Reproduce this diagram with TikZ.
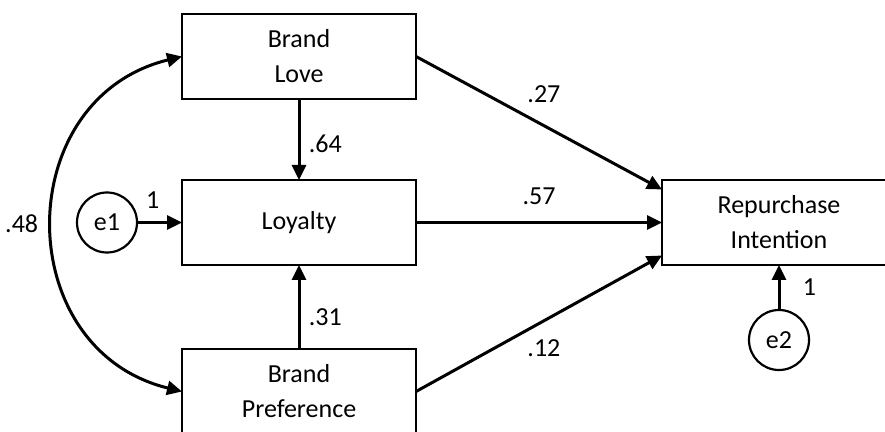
\documentclass[tikz,border=0pt]{standalone}
\usepackage{fontspec}
\setmainfont{Carlito}
\usetikzlibrary{positioning, arrows.meta}

\begin{document}
\begin{tikzpicture}[->, >={Triangle[length=15pt, width=14pt]}, line width=3pt,
        node distance=81pt,
        var/.style={draw, rectangle, line width=2.6pt, minimum width=234pt, minimum height=85pt,
            align=center, outer sep=0pt, font=\fontsize{26}{35}\selectfont},
        err/.style={draw, circle, line width=2.2pt, minimum size=60pt, inner sep=0pt,
            outer sep=0pt, font=\fontsize{26}{30}\selectfont},
        coef/.style={font=\fontsize{26}{30}\selectfont}]
            \useasboundingbox (0,0) rectangle (885pt,431pt);
            \clip (0,0) rectangle (885pt,431pt);

            \node[var] (love) at (299pt,374.5pt) {Brand\\Love};
            \node[var] (loyal) [below=of love] {Loyalty};
            \node[var] (pref) [below=84pt of loyal] {Brand\\Preference};
            \node[var] (rep) [right=246pt of loyal] {Repurchase\\Intention};
            \node[err] (e1) [left=45pt of loyal] {e1};
            \node[err] (e2) [below=45pt of rep] {e2};

            \path
            (love) edge node[coef, pos=.55, right=5pt] {.64} (loyal)
            (pref) edge node[coef, pos=.38, right=5pt] {.31} (loyal)
            (e1) edge node[coef, pos=.35, above=9pt] {1} (loyal)
            (e2) edge node[coef, right=19pt] {1} (rep)
            (love.east) edge node[coef, pos=.52, above=18pt] {.27} ([yshift=33pt]rep.west)
            (loyal) edge node[coef, above=13pt] {.57} (rep)
            (pref.east) edge node[coef, pos=.52, below=14pt] {.12} ([yshift=-33pt]rep.west);

            % covariance
            \draw[<->] (love.west) .. controls +(-172pt,-42pt) and +(-172pt,42pt) .. node[coef, pos=.5, left=10pt] {.48} (pref.west);

        \end{tikzpicture}
\end{document}
